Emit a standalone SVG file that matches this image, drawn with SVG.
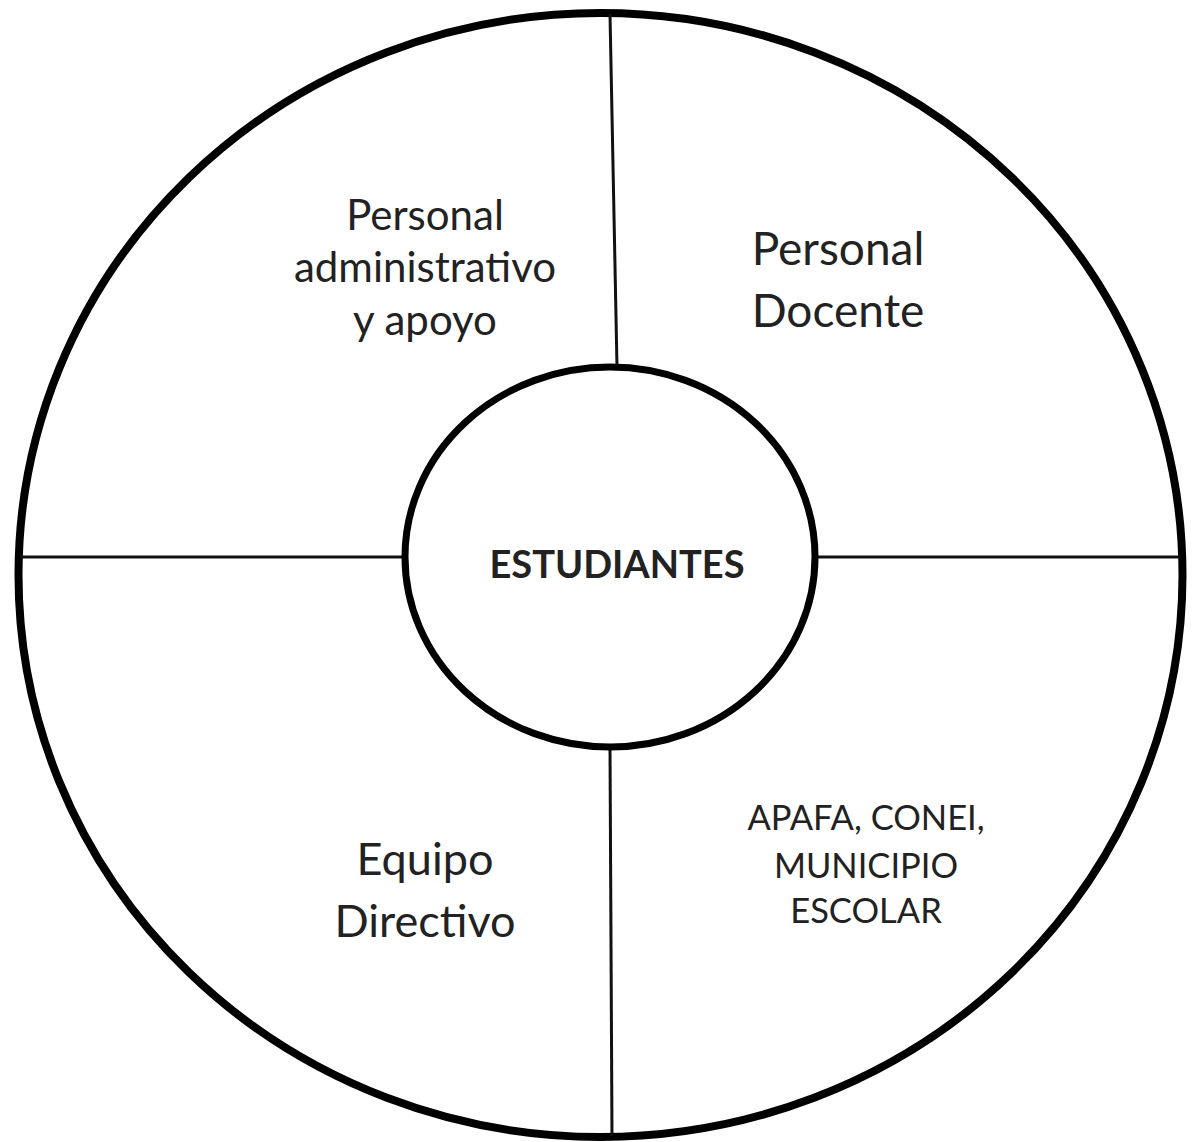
<svg xmlns="http://www.w3.org/2000/svg" width="1192" height="1142" viewBox="0 0 1192 1142">
<style>
.t{font-family:Lato,"Liberation Sans",sans-serif;fill:#222;text-anchor:middle}
.ring{fill:none;stroke:#000}
.ln{stroke:#111;stroke-width:3}
</style>
<rect width="1192" height="1142" fill="#fff"/>
<g id="outer"><ellipse class="ring" cx="600.5" cy="575" rx="582" ry="562" stroke-width="8"/></g>
<g id="connectors">
<line class="ln" x1="610" y1="14" x2="617" y2="367"/>
<line class="ln" x1="610" y1="748" x2="612" y2="1136"/>
<line class="ln" x1="20" y1="557" x2="405" y2="557"/>
<line class="ln" x1="815" y1="557" x2="1180" y2="557"/>
</g>
<g id="estudiantes">
<ellipse class="ring" cx="610" cy="557" rx="205" ry="190" stroke-width="7" fill="#fff"/>
<text class="t" x="617" y="578" font-size="38" font-weight="bold">ESTUDIANTES</text>
</g>
<g id="administrativo">
<text class="t" x="425" y="230" font-size="42">Personal</text>
<text class="t" x="425" y="282" font-size="42">administrativo</text>
<text class="t" x="425" y="335" font-size="42">y apoyo</text>
</g>
<g id="docente">
<text class="t" x="838" y="265" font-size="46">Personal</text>
<text class="t" x="838" y="327" font-size="46">Docente</text>
</g>
<g id="directivo">
<text class="t" x="425" y="875" font-size="45">Equipo</text>
<text class="t" x="425" y="937" font-size="45">Directivo</text>
</g>
<g id="apafa">
<text class="t" x="866" y="830" font-size="34.5">APAFA, CONEI,</text>
<text class="t" x="866" y="878" font-size="34.5">MUNICIPIO</text>
<text class="t" x="866" y="923" font-size="34.5">ESCOLAR</text>
</g>
</svg>
